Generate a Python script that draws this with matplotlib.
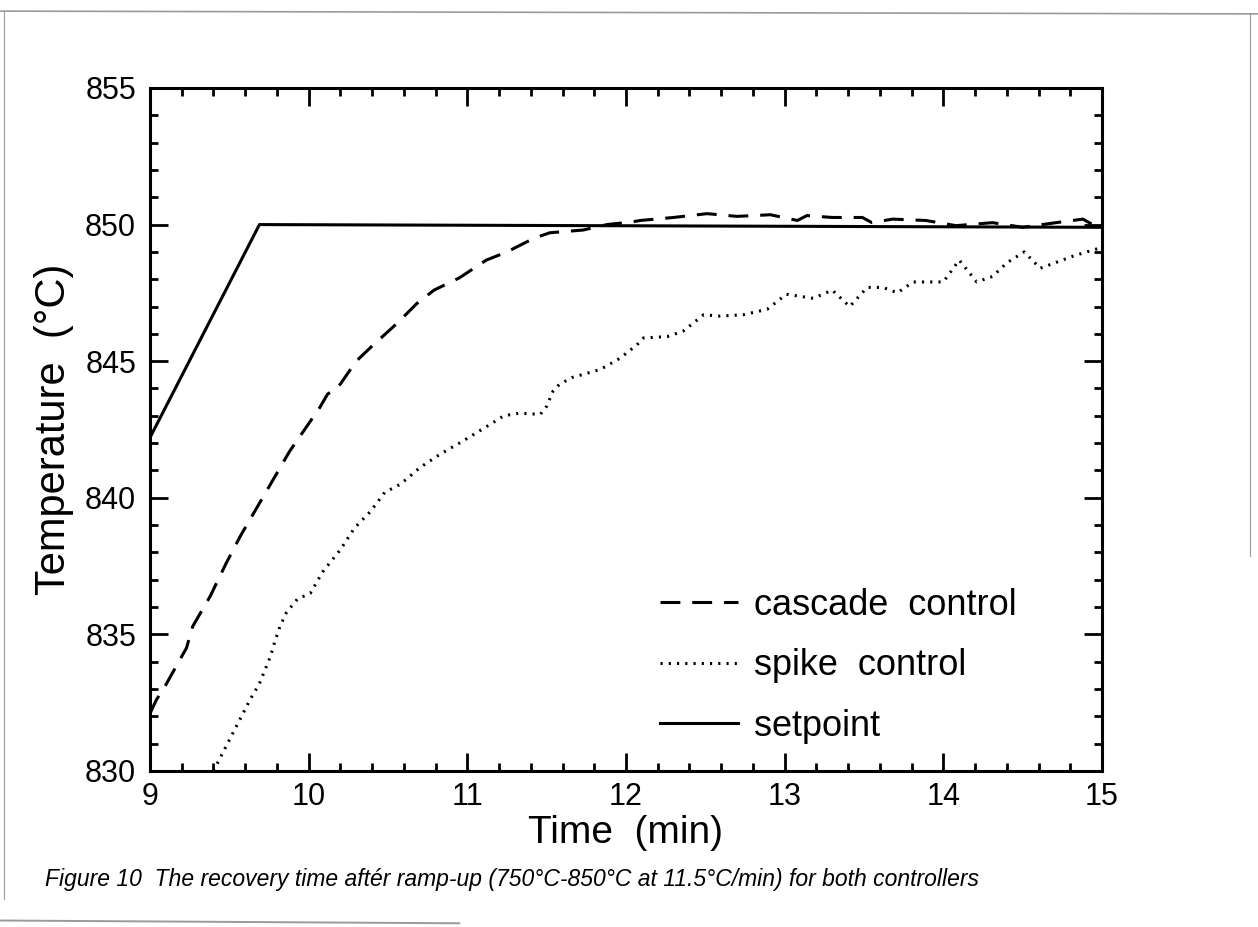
import numpy as np
import matplotlib
matplotlib.use('Agg')
import matplotlib.pyplot as plt
from matplotlib.lines import Line2D
from matplotlib.ticker import MultipleLocator

plt.rcParams['font.family'] = ['Liberation Sans', 'DejaVu Sans']

# setpoint ramp then hold
setpoint_t = [9.0, 9.69, 15.0]
setpoint_T = [842.2, 850.0, 849.9]

# cascade control (dashed)
cascade_t = [9.0, 9.04, 9.09, 9.23, 9.27, 9.38, 9.48, 9.57, 9.67, 9.78, 9.88, 10.07,
             10.12, 10.18, 10.30, 10.39, 10.56, 10.68, 10.79, 10.95, 11.12, 11.25,
             11.42, 11.52, 11.73, 11.88, 12.04, 12.09, 12.30, 12.51, 12.70, 12.91,
             13.08, 13.14, 13.30, 13.49, 13.55, 13.68, 13.89, 14.08, 14.31, 14.50,
             14.71, 14.88, 14.97, 15.0]
cascade_T = [832.1, 832.6, 833.05, 834.5, 835.3, 836.4, 837.6, 838.6, 839.6, 840.7, 841.7, 843.3,
             843.8, 844.0, 845.0, 845.5, 846.4, 847.1, 847.6, 848.05, 848.7, 849.0,
             849.5, 849.7, 849.8, 850.0, 850.1, 850.15, 850.26, 850.4, 850.3, 850.36,
             850.15, 850.33, 850.26, 850.26, 850.07, 850.2, 850.15, 849.96, 850.07, 849.9,
             850.07, 850.2, 849.9, 849.85]

# spike control (dotted)
spike_t = [9.40, 9.63, 9.69, 9.76, 9.79, 9.82, 9.86, 9.93, 10.01, 10.09, 10.20, 10.29,
           10.39, 10.48, 10.58, 10.70, 10.83, 10.95, 11.12, 11.23, 11.33, 11.46, 11.50,
           11.54, 11.58, 11.66, 11.84, 11.96, 12.07, 12.11, 12.26, 12.36, 12.49, 12.59,
           12.74, 12.89, 13.01, 13.18, 13.30, 13.41, 13.52, 13.62, 13.71, 13.81, 14.00,
           14.10, 14.21, 14.31, 14.40, 14.51, 14.61, 14.82, 14.99]
spike_T = [830.0, 832.6, 833.2, 834.2, 834.8, 835.3, 835.8, 836.3, 836.5, 837.3, 838.1, 838.9,
           839.5, 840.2, 840.5, 841.1, 841.6, 842.0, 842.6, 843.0, 843.1, 843.05, 843.35,
           843.9, 844.15, 844.4, 844.7, 845.1, 845.6, 845.85, 845.9, 846.1, 846.7, 846.65,
           846.7, 846.9, 847.45, 847.3, 847.6, 847.0, 847.7, 847.7, 847.5, 847.9, 847.9,
           848.7, 847.9, 848.1, 848.6, 849.0, 848.4, 848.85, 849.15]

fig = plt.figure(figsize=(12.58, 9.27), dpi=100)
ax = fig.add_axes([0.1192, 0.1683, 0.7568, 0.7368])

lw = 2.2
ax.plot(cascade_t, cascade_T, color='black', lw=lw, linestyle=(0, (6.5, 3.9)),
        label='cascade  control')
ax.plot(spike_t, spike_T, color='black', lw=lw, linestyle=(0, (0.7, 2.0)),
        label='spike  control')
ax.plot(setpoint_t, setpoint_T, color='black', lw=lw, label='setpoint')

ax.set_xlim(9, 15)
ax.set_ylim(830, 855)
ax.xaxis.set_major_locator(MultipleLocator(1))
ax.xaxis.set_minor_locator(MultipleLocator(0.2))
ax.yaxis.set_major_locator(MultipleLocator(5))
ax.yaxis.set_minor_locator(MultipleLocator(1))
ax.tick_params(which='both', direction='in', top=True, right=True, width=2, labelsize=22)
ax.tick_params(which='major', length=13)
ax.tick_params(which='minor', length=6)
ax.tick_params(axis='x', pad=8)
ax.tick_params(axis='y', pad=10)
for s in ax.spines.values():
    s.set_linewidth(2.2)

ax.set_xlabel('Time  (min)', fontsize=28, labelpad=2)
ax.set_ylabel('Temperature  (°C)', fontsize=30, labelpad=8)

ax.legend(loc='center left', bbox_to_anchor=(0.502, 0.154), frameon=False,
          fontsize=26, handlelength=2.16, handletextpad=0.42, labelspacing=0.7)

fig.text(0.036, 0.051, 'Figure 10  The recovery time aftér ramp-up (750°C-850°C at 11.5°C/min) for both controllers',
         fontsize=16.5, style='italic', ha='left', va='center')

# faint scanned page edges
grey = '#9a9a9a'
fig.add_artist(Line2D([0.0, 1.0], [0.988, 0.985], color=grey, lw=1.2))
fig.add_artist(Line2D([0.003, 0.003], [0.988, 0.03], color=grey, lw=0.8))
fig.add_artist(Line2D([0.0, 0.365], [0.007, 0.004], color=grey, lw=1.4))
fig.add_artist(Line2D([0.994, 0.994], [0.985, 0.40], color=grey, lw=0.8))

fig.savefig('out.png', dpi=100)
